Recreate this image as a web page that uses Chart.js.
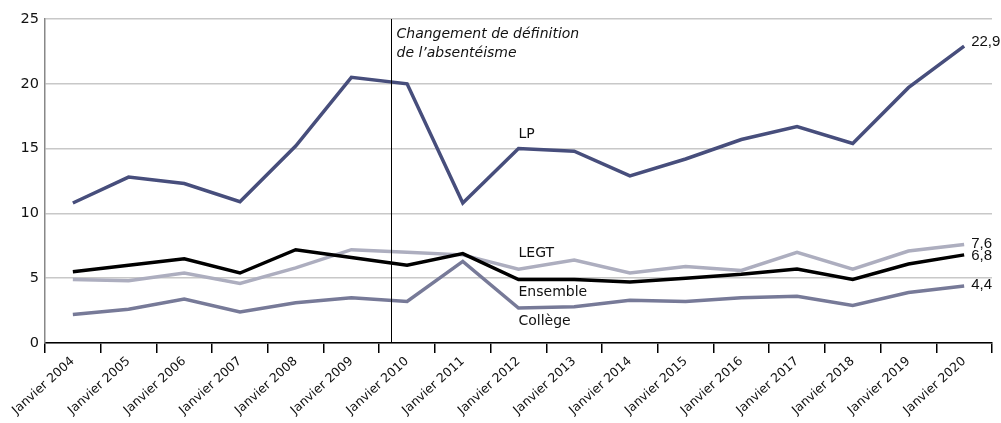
<!DOCTYPE html>
<html>
<head>
<meta charset="utf-8">
<script src="https://cdn.jsdelivr.net/npm/chart.js@4/dist/chart.umd.min.js"></script>
<style>
  html, body { margin: 0; padding: 0; background: #fff; }
  #wrap { width: 1001px; height: 423px; position: relative; }
</style>
</head>
<body>
<div id="wrap"><canvas id="chart"></canvas></div>
<script>
// Data
const years = ['Janvier 2004', 'Janvier 2005', 'Janvier 2006', 'Janvier 2007', 'Janvier 2008', 'Janvier 2009',
    'Janvier 2010', 'Janvier 2011', 'Janvier 2012', 'Janvier 2013', 'Janvier 2014', 'Janvier 2015',
    'Janvier 2016', 'Janvier 2017', 'Janvier 2018', 'Janvier 2019', 'Janvier 2020'];
const lp = [10.8, 12.8, 12.3, 10.9, 15.2, 20.5, 20.0, 10.8, 15.0, 14.8, 12.9, 14.2, 15.7, 16.7, 15.4, 19.7, 22.9];
const ensemble = [5.5, 6.0, 6.5, 5.4, 7.2, 6.6, 6.0, 6.9, 4.9, 4.9, 4.7, 5.0, 5.3, 5.7, 4.9, 6.1, 6.8];
const legt = [4.9, 4.8, 5.4, 4.6, 5.8, 7.2, 7.0, 6.8, 5.7, 6.4, 5.4, 5.9, 5.6, 7.0, 5.7, 7.1, 7.6];
const college = [2.2, 2.6, 3.4, 2.4, 3.1, 3.5, 3.2, 6.3, 2.7, 2.8, 3.3, 3.2, 3.5, 3.6, 2.9, 3.9, 4.4];
const yTicks = [0, 5, 10, 15, 20, 25];

// definition change happened partway between 2009 and 2010
const breakIndex = 5.72;
const breakText = ['Changement de définition', 'de l\u2019absentéisme'];

const colors = {
    lp: '#474e7c',
    ensemble: '#000000',
    legt: '#adaebf',
    college: '#777a98'
};

const FONT = '"DejaVu Sans", sans-serif';
const NUM_FONT = '"Liberation Sans", Arial, sans-serif';

// series names drawn next to the lines, at 2012
const seriesLabels = [
    { text: 'LP', data: lp, dy: -14 },
    { text: 'LEGT', data: legt, dy: -16 },
    { text: 'Ensemble', data: ensemble, dy: 13 },
    { text: 'Collège', data: college, dy: 13 }
];
const labelIndex = 8;

const fmt = (v) => v.toFixed(1).replace('.', ',');

const annotations = {
    id: 'annotations',
    afterDatasetsDraw(chart) {
        const { ctx, chartArea, scales: { x, y } } = chart;
        ctx.save();

        // break line
        const x0 = x.getPixelForValue(Math.floor(breakIndex));
        const x1 = x.getPixelForValue(Math.floor(breakIndex) + 1);
        const bx = Math.round(x0 + (x1 - x0) * (breakIndex - Math.floor(breakIndex))) + 0.5;
        ctx.strokeStyle = '#000';
        ctx.lineWidth = 1;
        ctx.beginPath();
        ctx.moveTo(bx, chartArea.top);
        ctx.lineTo(bx, chartArea.bottom);
        ctx.stroke();

        ctx.fillStyle = '#111';
        ctx.font = 'italic 14px ' + FONT;
        ctx.textBaseline = 'middle';
        ctx.textAlign = 'left';
        breakText.forEach((t, i) => ctx.fillText(t, bx + 5, chartArea.top + 15 + i * 19));

        // series names
        ctx.font = '14px ' + FONT;
        const lx = x.getPixelForValue(labelIndex);
        seriesLabels.forEach((s) => {
            ctx.fillText(s.text, lx, y.getPixelForValue(s.data[labelIndex]) + s.dy);
        });

        // last values
        ctx.font = '15px ' + NUM_FONT;
        const last = years.length - 1;
        const ex = x.getPixelForValue(last) + 7;
        [[lp, -4], [legt, -1], [ensemble, 1], [college, -1]].forEach(([d, dy]) => {
            ctx.fillText(fmt(d[last]), ex, y.getPixelForValue(d[last]) + dy);
        });
        ctx.restore();
    }
};

const line = (data, color) => ({
    data: data,
    borderColor: color,
    backgroundColor: color,
    borderWidth: 3.5,
    pointRadius: 0,
    tension: 0,
    fill: false
});

new Chart(document.getElementById('chart'), {
    type: 'line',
    data: {
        labels: years,
        datasets: [
            line(ensemble, colors.ensemble),
            line(lp, colors.lp),
            line(college, colors.college),
            line(legt, colors.legt)
        ]
    },
    options: {
        responsive: true,
        maintainAspectRatio: false,
        animation: false,
        layout: { padding: { top: 19, right: 9, left: 0, bottom: 0 } },
        plugins: {
            legend: { display: false },
            tooltip: { enabled: false }
        },
        scales: {
            x: {
                offset: true,
                grid: {
                    offset: true,
                    drawOnChartArea: false,
                    drawTicks: true,
                    tickLength: 10,
                    color: '#000',
                    lineWidth: 1.5
                },
                border: { display: true, color: '#000', width: 1.5 },
                ticks: {
                    autoSkip: false,
                    minRotation: 42,
                    maxRotation: 42,
                    color: '#111',
                    padding: 1,
                    font: { family: FONT, size: 12.5 }
                },
                afterFit(scale) { scale.height = 80; }
            },
            y: {
                min: 0,
                max: 25,
                afterBuildTicks(scale) { scale.ticks = yTicks.map((v) => ({ value: v })); },
                grid: {
                    color: '#c8c8c8',
                    lineWidth: 1.5,
                    drawTicks: false
                },
                border: { display: true, color: '#888', width: 1.5 },
                ticks: {
                    color: '#111',
                    padding: 6,
                    font: { family: FONT, size: 14.5 }
                },
                afterFit(scale) { scale.width = 45; }
            }
        }
    },
    plugins: [annotations]
});
</script>
</body>
</html>
